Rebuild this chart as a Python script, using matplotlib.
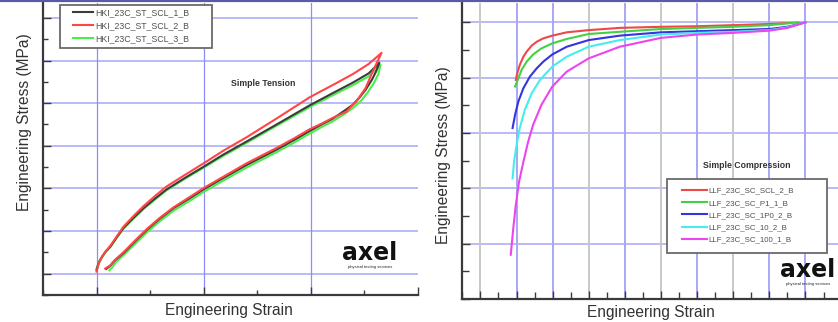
import matplotlib
matplotlib.use("Agg")
import matplotlib.pyplot as plt
from matplotlib.ticker import MultipleLocator
from matplotlib.lines import Line2D
from matplotlib.patches import Rectangle

# -------------------------- data --------------------------

# simple tension, loading then unloading (x: strain units, y: stress units)
st_names = ["HKI_23C_ST_SCL_1_B", "HKI_23C_ST_SCL_2_B", "HKI_23C_ST_SCL_3_B"]

st1_x = [0.0, 0.02, 0.05, 0.08, 0.13, 0.19, 0.25, 0.34, 0.44, 0.54, 0.65, 0.82, 1.0,
         1.18, 1.40, 1.68, 1.99, 2.2, 2.39, 2.54, 2.64,
         2.61, 2.57, 2.51, 2.45, 2.39, 2.30, 2.2, 2.1, 1.99, 1.84, 1.68, 1.54, 1.40,
         1.18, 1.0, 0.87, 0.72, 0.59, 0.47, 0.36, 0.25, 0.17, 0.13, 0.09]
st1_y = [0.09, 0.25, 0.39, 0.50, 0.64, 0.86, 1.07, 1.30, 1.54, 1.75, 1.97, 2.24, 2.51,
         2.79, 3.10, 3.50, 3.95, 4.23, 4.48, 4.70, 4.95,
         4.75, 4.55, 4.31, 4.12, 3.96, 3.80, 3.63, 3.50, 3.35, 3.13, 2.91, 2.73, 2.55,
         2.24, 1.98, 1.77, 1.54, 1.29, 1.03, 0.76, 0.48, 0.31, 0.19, 0.11]

st2_x = [0.0, 0.02, 0.05, 0.08, 0.13, 0.19, 0.25, 0.34, 0.44, 0.54, 0.65, 0.82, 1.0,
         1.18, 1.40, 1.68, 1.99, 2.2, 2.39, 2.54, 2.66,
         2.62, 2.57, 2.51, 2.43, 2.33, 2.2, 2.1, 1.99, 1.84, 1.68, 1.54, 1.40,
         1.18, 1.0, 0.87, 0.72, 0.59, 0.47, 0.36, 0.25, 0.17, 0.13, 0.08]
st2_y = [0.05, 0.24, 0.39, 0.51, 0.66, 0.88, 1.10, 1.34, 1.59, 1.81, 2.04, 2.31, 2.59,
         2.88, 3.20, 3.64, 4.14, 4.42, 4.68, 4.92, 5.18,
         4.97, 4.70, 4.35, 4.06, 3.80, 3.65, 3.52, 3.39, 3.17, 2.95, 2.77, 2.59,
         2.27, 2.01, 1.80, 1.56, 1.31, 1.05, 0.78, 0.50, 0.32, 0.20, 0.12]

st3_x = [0.0, 0.02, 0.05, 0.08, 0.13, 0.19, 0.25, 0.34, 0.44, 0.54, 0.65, 0.82, 1.0,
         1.18, 1.40, 1.68, 1.99, 2.2, 2.39, 2.54, 2.65,
         2.63, 2.59, 2.53, 2.47, 2.40, 2.31, 2.2, 2.1, 1.99, 1.84, 1.68, 1.54, 1.40,
         1.18, 1.0, 0.87, 0.72, 0.59, 0.47, 0.36, 0.25, 0.18, 0.15, 0.12]
st3_y = [0.12, 0.27, 0.40, 0.50, 0.63, 0.85, 1.05, 1.28, 1.52, 1.73, 1.95, 2.22, 2.49,
         2.76, 3.07, 3.47, 3.91, 4.18, 4.42, 4.63, 4.90,
         4.68, 4.48, 4.25, 4.06, 3.90, 3.74, 3.57, 3.44, 3.29, 3.07, 2.85, 2.67, 2.49,
         2.18, 1.92, 1.71, 1.48, 1.23, 0.97, 0.70, 0.43, 0.27, 0.16, 0.08]

# simple compression
sc_names = ["LLF_23C_SC_SCL_2_B", "LLF_23C_SC_P1_1_B", "LLF_23C_SC_1P0_2_B",
            "LLF_23C_SC_10_2_B", "LLF_23C_SC_100_1_B"]

sc1_x = [0.98, 1.02, 1.09, 1.19, 1.28, 1.42, 1.56, 1.74, 1.99, 2.39, 3.0, 3.86,
         5.0, 6.0, 7.0, 8.0, 8.6]
sc1_y = [3.96, 4.08, 4.23, 4.38, 4.47, 4.58, 4.65, 4.71, 4.76, 4.82, 4.86, 4.90,
         4.92, 4.93, 4.95, 4.97, 4.99]

sc2_x = [0.96, 1.05, 1.14, 1.28, 1.46, 1.69, 1.99, 2.39, 3.0, 3.86,
         5.0, 6.0, 7.0, 8.0, 8.8]
sc2_y = [3.84, 3.99, 4.14, 4.29, 4.42, 4.53, 4.62, 4.70, 4.79, 4.83,
         4.88, 4.90, 4.92, 4.95, 5.0]

sc3_x = [0.89, 0.96, 1.05, 1.19, 1.37, 1.56, 1.74, 1.99, 2.39, 3.0, 3.86,
         5.0, 6.0, 7.0, 8.0, 8.5, 9.0]
sc3_y = [3.09, 3.33, 3.57, 3.81, 4.02, 4.17, 4.29, 4.42, 4.56, 4.68, 4.76,
         4.82, 4.84, 4.86, 4.88, 4.92, 5.0]

sc4_x = [0.89, 0.93, 1.0, 1.09, 1.23, 1.42, 1.65, 1.99, 2.39, 3.0, 3.86,
         5.0, 6.0, 7.0, 8.0, 8.5, 9.0]
sc4_y = [2.18, 2.48, 2.78, 3.09, 3.42, 3.72, 3.96, 4.20, 4.38, 4.56, 4.68,
         4.78, 4.81, 4.83, 4.86, 4.91, 5.0]

sc5_x = [0.84, 0.91, 0.98, 1.07, 1.19, 1.32, 1.46, 1.69, 1.99, 2.39, 3.0, 3.86,
         5.0, 6.0, 7.0, 8.0, 8.5, 9.0]
sc5_y = [0.80, 1.28, 1.70, 2.12, 2.48, 2.84, 3.15, 3.51, 3.84, 4.11, 4.35, 4.56,
         4.72, 4.78, 4.81, 4.85, 4.90, 5.0]

# ----------------------------- styling -----------------------------

W, H = 838, 322
FONT = ["Liberation Sans", "DejaVu Sans"]
plt.rcParams["font.family"] = FONT

st_colors = ["#3c3c3c", "#ff4646", "#46f046"]
st_zorder = [4, 5, 3]
sc_colors = ["#ee4848", "#44d044", "#3434e0", "#44eeee", "#ee44ee"]

# vertical grid colours on the compression chart (grey/blue mix as in original)
sc_vgrid_colors = ["#c8c8c8", "#a8a8f4", "#a8a8f4", "#c8c8c8", "#a8a8f4",
                   "#c8c8c8", "#a8a8f4", "#c8c8c8", "#a8a8f4", "#a8a8f4"]

HGRID = "#b4b4f6"
SPINE = "#3a3a3a"


def fx(px):
    return px / W


def fy(py):
    return 1 - py / H


def style_axes(ax):
    for s in ["top", "right"]:
        ax.spines[s].set_visible(False)
    for s in ["left", "bottom"]:
        ax.spines[s].set_color(SPINE)
        ax.spines[s].set_linewidth(1.6)
    ax.tick_params(which="both", direction="in", color=SPINE, width=1.0,
                   labelleft=False, labelbottom=False)
    ax.tick_params(which="major", length=6)
    ax.tick_params(which="minor", length=3.5)


def logo(x, y):
    fig.text(fx(x), fy(y), "axel", ha="center", va="baseline", fontsize=17,
             fontweight="bold", family="DejaVu Sans", color="#111111")
    fig.text(fx(x), fy(y + 7), "physical testing services", ha="center",
             va="center", fontsize=3.0, color="#222222")


fig = plt.figure(figsize=(W / 100, H / 100), dpi=100)
fig.patch.set_facecolor("white")

# ---------------- left: simple tension ----------------
axL = fig.add_axes([fx(43), fy(295), fx(418) - fx(43), fy(3) - fy(295)])
style_axes(axL)
axL.set_xlim(-0.5, 3.0)
axL.set_ylim(-0.5, 6.35)
axL.xaxis.set_major_locator(MultipleLocator(1))
axL.xaxis.set_minor_locator(MultipleLocator(0.5))
axL.yaxis.set_major_locator(MultipleLocator(1))
axL.yaxis.set_minor_locator(MultipleLocator(0.5))
for yv in range(0, 7):
    axL.axhline(yv, color=HGRID, lw=1.3, zorder=1)
for xv in range(0, 3):
    axL.axvline(xv, color="#8c8cff", lw=0.9, zorder=1)

st_data = [(st1_x, st1_y), (st2_x, st2_y), (st3_x, st3_y)]
handles = []
for (xs, ys), c, z, name in zip(st_data, st_colors, st_zorder, st_names):
    ln, = axL.plot(xs, ys, color=c, lw=1.5, zorder=z, label=name,
                   solid_joinstyle="round")
    handles.append(ln)

fig.add_artist(Rectangle((fx(60), fy(48)), fx(212) - fx(60), fy(5) - fy(48),
                         transform=fig.transFigure, fill=True, facecolor="white",
                         edgecolor="#6a6a6a", lw=1.3, zorder=10))
legL = fig.legend(handles=handles, loc="upper left",
                  bbox_to_anchor=(fx(73), fy(8)), frameon=False,
                  prop={"size": 6.3}, handlelength=2.3, handletextpad=0.2,
                  labelspacing=0.45, borderpad=0, borderaxespad=0)
legL.set_zorder(11)
for t in legL.get_texts():
    t.set_color("#505050")

fig.text(fx(263), fy(83), "Simple Tension", ha="center", va="center",
         fontsize=6.3, fontweight="bold", color="#333333")
logo(370, 260)

fig.text(fx(229), fy(311), "Engineering Strain", ha="center", va="center",
         fontsize=11.2, color="#333333")
fig.text(fx(25), fy(122), "Engineering Stress (MPa)", ha="center", va="center",
         rotation=90, fontsize=11.2, color="#333333")

# ---------------- right: simple compression ----------------
axR = fig.add_axes([fx(462), fy(299), 1 - fx(462), fy(3) - fy(299)])
style_axes(axR)
axR.set_xlim(-0.51, 9.9)
axR.set_ylim(0, 5.35)
axR.xaxis.set_major_locator(MultipleLocator(1))
axR.xaxis.set_minor_locator(MultipleLocator(0.5))
axR.yaxis.set_major_locator(MultipleLocator(1))
axR.yaxis.set_minor_locator(MultipleLocator(0.5))
axR.tick_params(which="minor", length=5)
for yv in range(1, 6):
    axR.axhline(yv, color=HGRID, lw=1.3, zorder=1)
for xv, c in enumerate(sc_vgrid_colors):
    axR.axvline(xv, color=c, lw=1.4, zorder=1)

sc_data = [(sc1_x, sc1_y), (sc2_x, sc2_y), (sc3_x, sc3_y), (sc4_x, sc4_y), (sc5_x, sc5_y)]
handles = []
for (xs, ys), c, name in zip(sc_data, sc_colors, sc_names):
    ln, = axR.plot(xs, ys, color=c, lw=1.5, zorder=3, label=name,
                   solid_joinstyle="round")
    handles.append(ln)

fig.add_artist(Rectangle((fx(667), fy(253)), fx(827) - fx(667), fy(179) - fy(253),
                         transform=fig.transFigure, fill=True, facecolor="white",
                         edgecolor="#6a6a6a", lw=1.3, zorder=10))
legR = fig.legend(handles=handles, loc="upper left",
                  bbox_to_anchor=(fx(682), fy(187)), frameon=False,
                  prop={"size": 5.7}, handlelength=3.2, handletextpad=0.15,
                  labelspacing=0.6, borderpad=0, borderaxespad=0)
legR.set_zorder(11)
for t in legR.get_texts():
    t.set_color("#505050")

fig.text(fx(747), fy(166), "Simple Compression", ha="center", va="center",
         fontsize=6.3, fontweight="bold", color="#333333")
logo(808, 277)

fig.text(fx(651), fy(313), "Engineering Strain", ha="center", va="center",
         fontsize=11.2, color="#333333")
fig.text(fx(443), fy(155), "Engineering Stress (MPa)", ha="center", va="center",
         rotation=90, fontsize=11.2, color="#333333")

# thin purple rule along the top edge
fig.add_artist(Line2D([0, 1], [fy(0.8), fy(0.8)], transform=fig.transFigure,
                      color="#5a5aa8", lw=1.6))

fig.savefig("out.png", dpi=100, facecolor="white")
